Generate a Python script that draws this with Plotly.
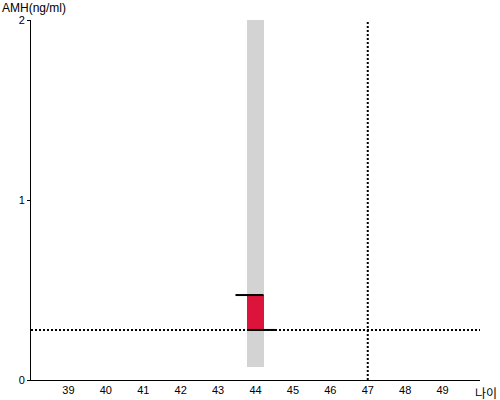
import plotly.graph_objects as go

# values
age = [44]
amh_low = [0.278]
amh_high = [0.472]
range_low = [0.07]
range_high = [2.0]
ref_age = 47
ref_amh = 0.278
x_ticks = list(range(39, 50))
y_ticks = [0, 1, 2]

bar_w = 0.43
cap = 0.32  # how far the black caps reach past the bar

fig = go.Figure()

# grey reference band
fig.add_trace(go.Bar(
    x=age, y=[h - l for l, h in zip(range_low, range_high)], base=range_low,
    width=bar_w, marker=dict(color='#d3d3d3', line=dict(width=0)),
    showlegend=False, hoverinfo='skip'
))

# red measured range
fig.add_trace(go.Bar(
    x=age, y=[h - l for l, h in zip(amh_low, amh_high)], base=amh_low,
    width=bar_w, marker=dict(color='#dc143c', line=dict(width=0)),
    showlegend=False
))

# black caps: top one runs to the left, bottom one to the right
for a, lo, hi in zip(age, amh_low, amh_high):
    fig.add_trace(go.Scatter(
        x=[a - bar_w / 2 - cap, a + bar_w / 2], y=[hi, hi], mode='lines',
        line=dict(color='black', width=2), showlegend=False, hoverinfo='skip'
    ))
    fig.add_trace(go.Scatter(
        x=[a - bar_w / 2, a + bar_w / 2 + cap], y=[lo, lo], mode='lines',
        line=dict(color='black', width=2), showlegend=False, hoverinfo='skip'
    ))

# dotted guide lines
fig.add_shape(type='line', xref='paper', yref='y', x0=0, x1=1,
              y0=ref_amh, y1=ref_amh,
              line=dict(color='black', width=2, dash='2px,2px'))
fig.add_shape(type='line', xref='x', yref='paper', x0=ref_age, x1=ref_age,
              y0=0, y1=1, line=dict(color='black', width=2, dash='2px,2px'))

fig.update_layout(
    width=500, height=400,
    margin=dict(l=31, r=20, t=20, b=20),
    plot_bgcolor='white', paper_bgcolor='white',
    font=dict(family='Liberation Sans, Arial', size=11, color='black'),
    barmode='overlay', bargap=0,
    xaxis=dict(range=[38, 50], tickvals=x_ticks, showgrid=False, zeroline=False,
               showline=True, linecolor='black', linewidth=1, ticks='',
               automargin=False, fixedrange=True),
    yaxis=dict(range=[0, 2], tickvals=y_ticks, showgrid=False, zeroline=False,
               showline=True, linecolor='black', linewidth=1, ticks='outside',
               ticklen=3, tickcolor='black', automargin=False, fixedrange=True),
    annotations=[
        dict(text='AMH(ng/ml)', xref='paper', yref='paper', x=-0.069, y=1,
             xanchor='left', yanchor='bottom', yshift=3, showarrow=False,
             font=dict(size=12)),
        dict(text='나이', xref='paper', yref='paper', x=1.013, y=0,
             xanchor='center', yanchor='top', yshift=-2, showarrow=False,
             font=dict(family='Noto Sans CJK KR', size=12)),
    ],
)

# the page's default body margin would shift the 500x400 figure
fig.write_html('out.html', config={'displayModeBar': False},
               post_script="document.body.style.margin='0';")
